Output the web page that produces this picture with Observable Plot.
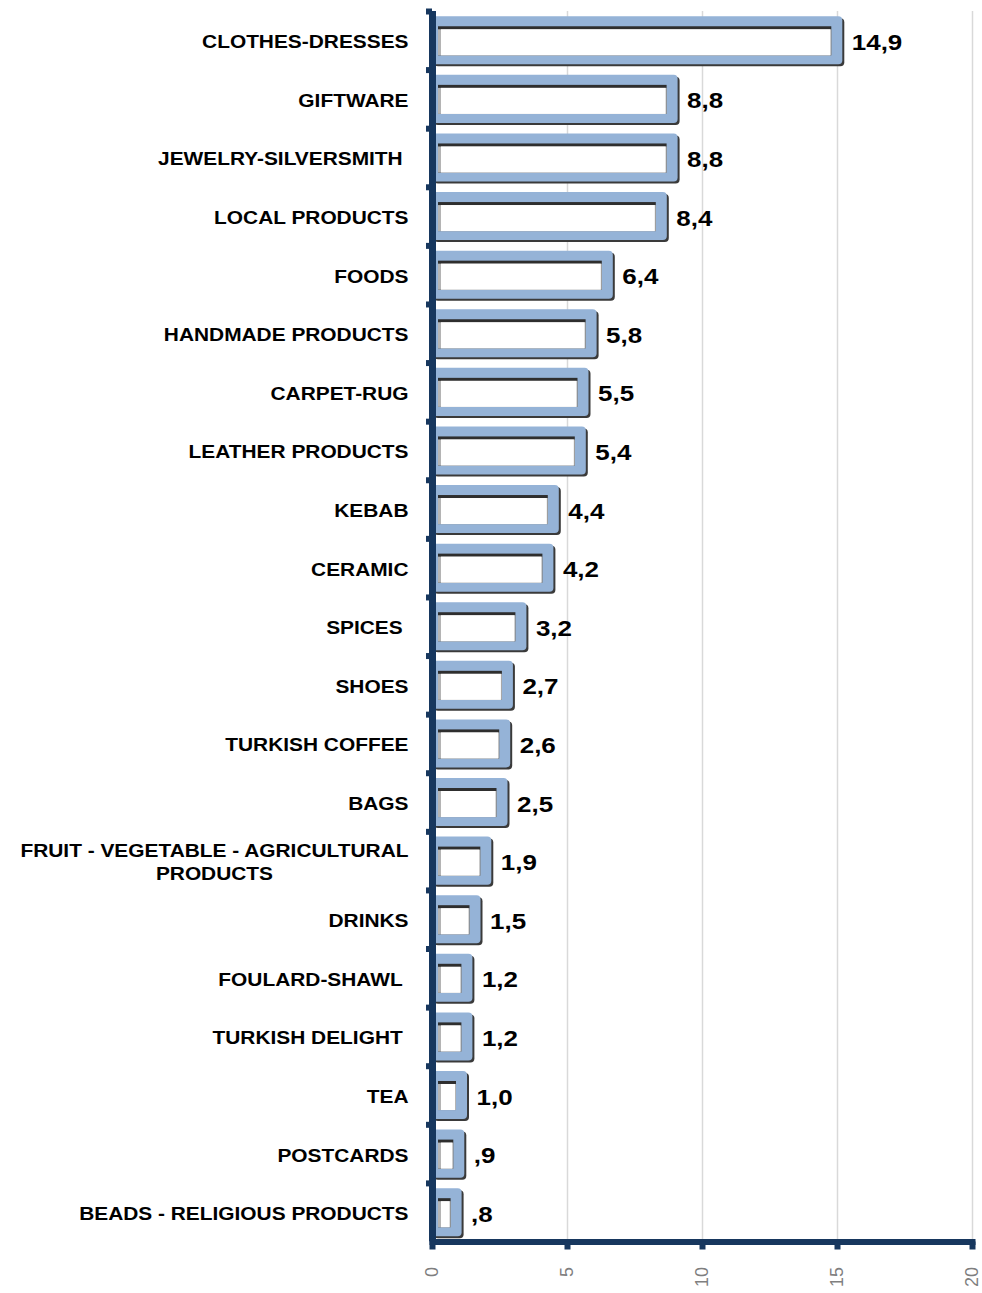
<!DOCTYPE html>
<html><head><meta charset="utf-8">
<script src="https://cdn.jsdelivr.net/npm/d3@7"></script>
<script src="https://cdn.jsdelivr.net/npm/@observablehq/plot@0.6"></script>
<style>
body{margin:0;background:#fff;}
#chart svg text{font-family:"Liberation Sans",Arial,sans-serif;}
g[aria-label="y-axis tick label"] text{font-weight:bold;}
g[aria-label="text"] text{font-weight:bold;}
</style></head><body><div id="chart"></div>
<script>
const categories = [
  "CLOTHES-DRESSES",
  "GIFTWARE",
  "JEWELRY-SILVERSMITH\u00a0",
  "LOCAL PRODUCTS",
  "FOODS",
  "HANDMADE PRODUCTS",
  "CARPET-RUG",
  "LEATHER PRODUCTS",
  "KEBAB",
  "CERAMIC",
  "SPICES\u00a0",
  "SHOES",
  "TURKISH COFFEE",
  "BAGS",
  "FRUIT - VEGETABLE - AGRICULTURAL\nPRODUCTS",
  "DRINKS",
  "FOULARD-SHAWL\u00a0",
  "TURKISH DELIGHT\u00a0",
  "TEA",
  "POSTCARDS",
  "BEADS - RELIGIOUS PRODUCTS"
];
const values = [14.9, 8.8, 8.8, 8.4, 6.4, 5.8, 5.5, 5.4, 4.4, 4.2, 3.2, 2.7, 2.6, 2.5, 1.9, 1.5, 1.2, 1.2, 1.0, 0.9, 0.8];
const xTicks = [0, 5, 10, 15, 20];

const data = categories.map((c, i) => ({category: c, value: values[i]}));
const fmt = v => v.toFixed(1).replace(".", ",").replace(/^0/, "");

const W = 982, H = 1293, mT = 11, mB = 51.5, mL = 432, mR = 10;
const step = (H - mT - mB) / categories.length;
const navy = "#17375e", blue = "#95b3d7";
const font = "'Liberation Sans', Arial, sans-serif";

const chart = Plot.plot({
  width: W, height: H,
  marginTop: mT, marginBottom: mB, marginLeft: mL, marginRight: mR,
  style: {fontFamily: font, background: "white"},
  x: {domain: [0, 20], label: null},
  y: {domain: categories, paddingInner: 0.18, paddingOuter: 0.09, round: false, label: null},
  marks: [
    Plot.ruleX(xTicks.slice(1), {stroke: "#d9d9d9", strokeWidth: 1.5}),
    Plot.barX(data, {x: "value", y: "category", fill: "#3a3a3a", dx: 2, dy: 2, insetRight: -8, rx: 4}),
    Plot.barX(data, {x: "value", y: "category", fill: blue, insetRight: -8, rx: 4}),
    Plot.barX(data, {x: "value", y: "category", fill: "#2e2e2e", insetTop: 10, insetBottom: 9, insetLeft: 6, insetRight: 3}),
    Plot.barX(data, {x: "value", y: "category", fill: "#b4b4b4", insetTop: 13, insetBottom: 9, insetLeft: 6, insetRight: 3}),
    Plot.barX(data, {x: "value", y: "category", fill: "white", insetTop: 13, insetBottom: 9, insetLeft: 9, insetRight: 4}),
    Plot.text(data, {x: "value", y: "category", text: d => fmt(d.value), textAnchor: "start", dx: 17, dy: 2, fontSize: 22, fontWeight: "bold", fill: "black"}),
    Plot.ruleX([0], {stroke: navy, strokeWidth: 7}),
    Plot.frame({anchor: "bottom", stroke: navy, strokeWidth: 6}),
    Plot.axisY({tickSize: 6, tickFormat: () => "", dy: -step / 2, stroke: navy, strokeWidth: 6}),
    Plot.axisY({tickSize: 0, tickPadding: 24, fontSize: 18, fontWeight: "bold", fill: "black", lineHeight: 1.3}),
    Plot.axisX({ticks: xTicks, tickSize: 8, tickFormat: () => "", stroke: navy, strokeWidth: 6}),
    Plot.axisX({ticks: xTicks, tickSize: 0, tickPadding: 25, tickRotate: -90, fontSize: 18, fill: "#7f7f7f"})
  ]
});
document.getElementById("chart").appendChild(chart);

// widen glyphs horizontally around each text's anchor point (the reference's text is stretched)
function stretch(sel, sx) {
  chart.querySelectorAll(sel).forEach(t => {
    const tr = t.getAttribute("transform") || "";
    t.setAttribute("transform", `${tr} scale(${sx},1)`);
  });
}
stretch('g[aria-label="y-axis tick label"] text', 1.16);
stretch('g[aria-label="text"] text', 1.18);

// center the lines of the two-line label within its block, keeping the block right-aligned
chart.querySelectorAll("text").forEach(t => {
  if (!t.textContent.includes("AGRICULTURAL")) return;
  t.setAttribute("text-anchor", "middle");
  t.querySelectorAll("tspan").forEach(s => s.setAttribute("text-anchor", "middle"));
  const w = t.getBoundingClientRect().width;
  const g = document.createElementNS("http://www.w3.org/2000/svg", "g");
  g.setAttribute("transform", `translate(${-w / 2},0)`);
  t.parentNode.insertBefore(g, t);
  g.appendChild(t);
});
</script>
</body></html>
